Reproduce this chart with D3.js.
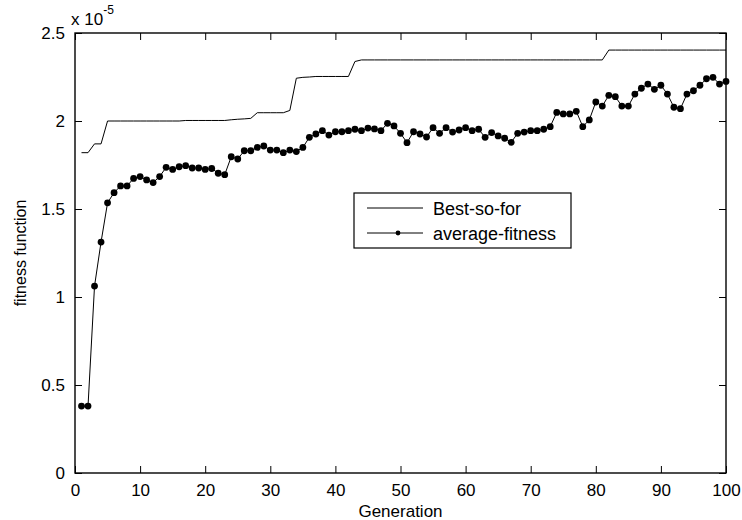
<!DOCTYPE html>
<html>
<head>
<meta charset="utf-8">
<script src="https://cdn.jsdelivr.net/npm/d3@7"></script>
<style>
  body { margin: 0; background: #fff; }
  svg text { font-family: "Liberation Sans", Arial, Helvetica, sans-serif; fill: #000; }
</style>
</head>
<body>
<div class="chart"></div>
<script>
const w = 742
const h = 520
const margin = ({top: 33, right: 16, bottom: 47, left: 75})
const width = w - margin.left - margin.right
const height = h - margin.top - margin.bottom

// generation index and fitness values (units of 1e-5)
const generations = d3.range(1, 101)

const bestSoFar = [
  1.82, 1.82, 1.87, 1.87, 2.0, 2.0, 2.0, 2.0, 2.0, 2.0,
  2.0, 2.0, 2.0, 2.0, 2.0, 2.0, 2.003, 2.003, 2.003, 2.003,
  2.003, 2.003, 2.003, 2.007, 2.01, 2.012, 2.015, 2.047, 2.047, 2.047,
  2.047, 2.047, 2.06, 2.243, 2.248, 2.25, 2.253, 2.253, 2.253, 2.253,
  2.253, 2.253, 2.338, 2.347, 2.347, 2.347, 2.347, 2.347, 2.347, 2.347,
  2.347, 2.347, 2.347, 2.347, 2.347, 2.347, 2.347, 2.347, 2.347, 2.347,
  2.347, 2.347, 2.347, 2.347, 2.347, 2.347, 2.347, 2.347, 2.347, 2.347,
  2.347, 2.347, 2.347, 2.347, 2.347, 2.347, 2.347, 2.347, 2.347, 2.347,
  2.347, 2.403, 2.403, 2.403, 2.403, 2.403, 2.403, 2.403, 2.403, 2.403,
  2.403, 2.403, 2.403, 2.403, 2.403, 2.403, 2.403, 2.403, 2.403, 2.403
]

const averageFitness = [
  0.38, 0.38, 1.062, 1.312, 1.535, 1.593, 1.631, 1.631, 1.674, 1.684,
  1.665, 1.65, 1.684, 1.737, 1.725, 1.74, 1.746, 1.733, 1.733, 1.725,
  1.73, 1.703, 1.695, 1.797, 1.784, 1.831, 1.831, 1.85, 1.858, 1.835,
  1.835, 1.82, 1.835, 1.826, 1.85, 1.907, 1.926, 1.945, 1.92, 1.939,
  1.939, 1.945, 1.953, 1.945, 1.96, 1.955, 1.945, 1.987, 1.972, 1.93,
  1.877, 1.939, 1.926, 1.909, 1.962, 1.93, 1.962, 1.937, 1.949, 1.962,
  1.945, 1.953, 1.907, 1.934, 1.915, 1.902, 1.879, 1.93, 1.937, 1.945,
  1.945, 1.953, 1.968, 2.049, 2.04, 2.04, 2.055, 1.968, 2.006, 2.108,
  2.085, 2.146, 2.138, 2.085, 2.085, 2.153, 2.186, 2.21, 2.18, 2.203,
  2.153, 2.078, 2.07, 2.153, 2.172, 2.203, 2.24, 2.248, 2.21, 2.225
]

const xTicks = [0, 10, 20, 30, 40, 50, 60, 70, 80, 90, 100]
const yTicks = [0, 0.5, 1, 1.5, 2, 2.5]
const legendLabels = ["Best-so-for", "average-fitness"]

const svg = d3.select(".chart").append("svg")
    .attr("width", w)
    .attr("height", h)
const g = svg.append("g")
    .attr("transform", `translate(${margin.left},${margin.top})`)

const xScale = d3.scaleLinear().domain([0, 100]).range([0, width])
const yScale = d3.scaleLinear().domain([0, 2.5]).range([height, 0])

const tickLen = 7

// axes: ticks pointing inward, on all four sides (box on)
const xAxis = d3.axisBottom(xScale).tickValues(xTicks).tickSizeInner(-tickLen).tickSizeOuter(0).tickPadding(11)
const yAxis = d3.axisLeft(yScale).tickValues(yTicks).tickSizeInner(-tickLen).tickSizeOuter(0).tickPadding(10).tickFormat(d3.format("~g"))

g.append("g")
    .attr("transform", `translate(0,${height})`)
    .call(xAxis)
g.append("g")
    .call(yAxis)
g.append("g")
    .call(d3.axisTop(xScale).tickValues(xTicks).tickSizeInner(-tickLen).tickSizeOuter(0).tickFormat(""))
g.append("g")
    .attr("transform", `translate(${width},0)`)
    .call(d3.axisRight(yScale).tickValues(yTicks).tickSizeInner(-tickLen).tickSizeOuter(0).tickFormat(""))

g.selectAll(".domain").remove()
g.selectAll(".tick line").attr("stroke", "#000").attr("stroke-width", 1)
g.selectAll(".tick text")
    .attr("font-size", 17)
    .attr("font-family", "Liberation Sans, Arial, sans-serif")
    .attr("fill", "#000")

g.append("rect")
    .attr("width", width)
    .attr("height", height)
    .attr("fill", "none")
    .attr("stroke", "#000")
    .attr("stroke-width", 1.4)

const seriesLine = d3.line()
    .x((d, i) => xScale(generations[i]))
    .y(d => yScale(d))

g.append("path")
    .datum(bestSoFar)
    .attr("fill", "none")
    .attr("stroke", "#000")
    .attr("stroke-width", 1)
    .attr("d", seriesLine)

g.append("path")
    .datum(averageFitness)
    .attr("fill", "none")
    .attr("stroke", "#000")
    .attr("stroke-width", 1)
    .attr("d", seriesLine)

g.selectAll(".avg-dot")
    .data(averageFitness)
    .enter()
    .append("circle")
    .attr("class", "avg-dot")
    .attr("cx", (d, i) => xScale(generations[i]))
    .attr("cy", d => yScale(d))
    .attr("r", 3.4)
    .attr("fill", "#000")

// axis labels
svg.append("text")
    .attr("x", margin.left + width / 2)
    .attr("y", 517)
    .attr("text-anchor", "middle")
    .attr("font-size", 17)
    .text("Generation")

svg.append("text")
    .attr("transform", `translate(26,${margin.top + height / 2}) rotate(-90)`)
    .attr("text-anchor", "middle")
    .attr("font-size", 16)
    .text("fitness function")

// exponent label
const expo = svg.append("text")
    .attr("x", 71)
    .attr("y", 25)
    .attr("font-size", 17)
expo.append("tspan").text("x 10")
expo.append("tspan")
    .attr("dy", -11)
    .attr("font-size", 12)
    .text("-5")

// legend
const legend = svg.append("g")
    .attr("transform", "translate(354,193)")
legend.append("rect")
    .attr("width", 217)
    .attr("height", 55)
    .attr("fill", "#fff")
    .attr("stroke", "#000")
    .attr("stroke-width", 1.2)

const items = legend.selectAll(".item")
    .data(legendLabels)
    .enter()
    .append("g")
    .attr("class", "item")
    .attr("transform", (d, i) => `translate(0,${15 + i * 25})`)
items.append("line")
    .attr("x1", 13)
    .attr("x2", 69)
    .attr("stroke", "#000")
    .attr("stroke-width", 1)
items.filter((d, i) => i === 1)
    .append("circle")
    .attr("cx", 44)
    .attr("r", 2.4)
    .attr("fill", "#000")
items.append("text")
    .attr("x", 79)
    .attr("y", 6.5)
    .attr("font-size", 18)
    .text(d => d)
</script>
</body>
</html>
